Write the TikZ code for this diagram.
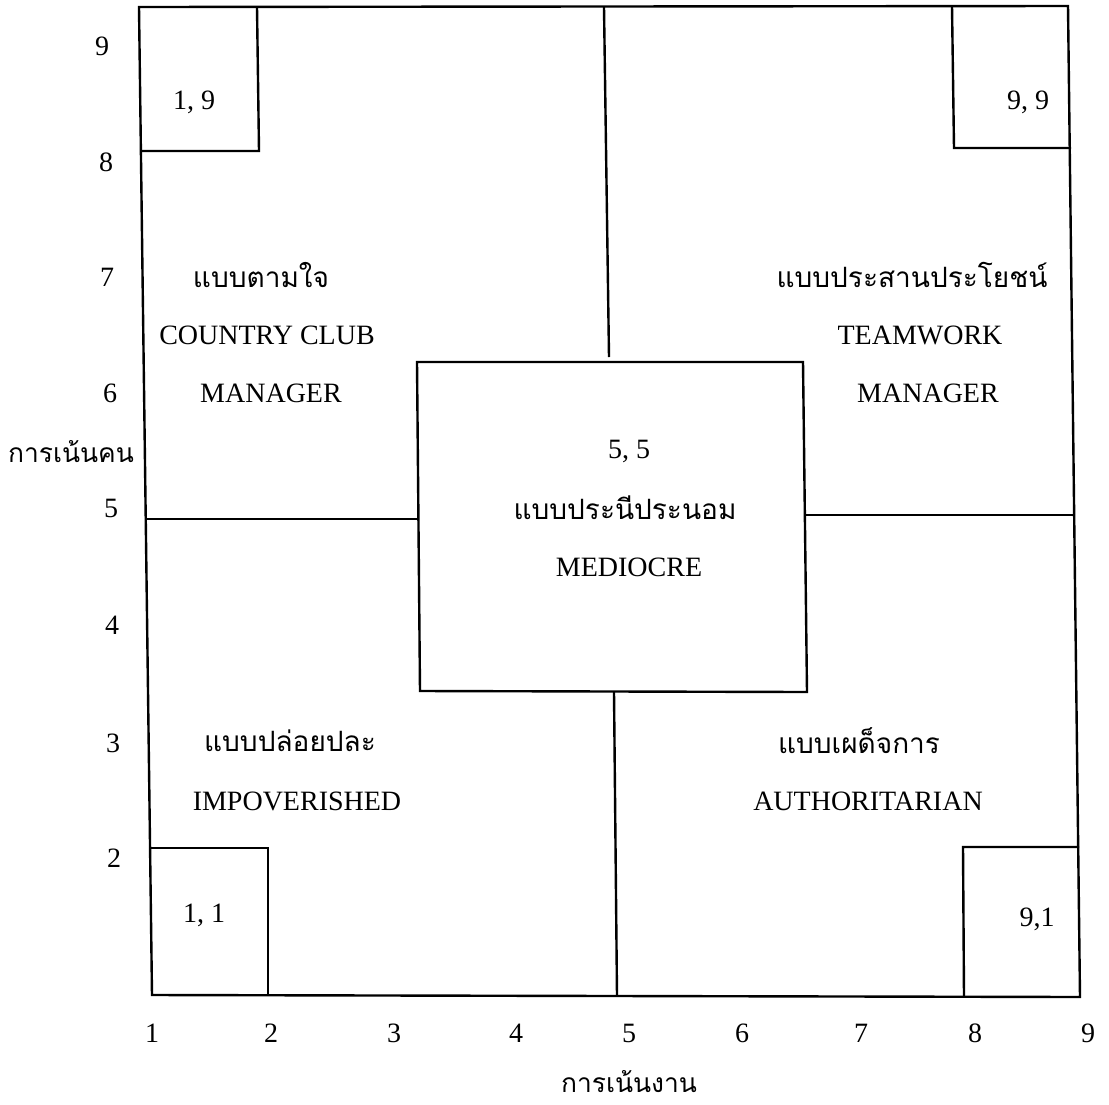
\documentclass[tikz,border=0pt]{standalone}
\usepackage{fontspec}
\setmainfont{Liberation Serif}
\newfontfamily\thaifont[Script=Thai]{Loma}
\begin{document}
\begin{tikzpicture}[x=0.5pt,y=-0.5pt,line width=1.2pt,line join=miter,
  lbl/.style={font=\fontsize{14}{16}\selectfont,inner sep=0pt},
  th/.style={font=\thaifont\fontsize{14}{16}\selectfont,inner sep=0pt},
  thax/.style={font=\thaifont\fontsize{13.2}{15}\selectfont,inner sep=0pt}]
\useasboundingbox (0,0) rectangle (1109,1104);
% outer frame corners
\coordinate (TL) at (139,7);
\coordinate (TR) at (1068,6);
\coordinate (BR) at (1080,997);
\coordinate (BL) at (152,995);
\draw (TL) -- (TR) -- (BR) -- (BL) -- cycle;
% centre box
\coordinate (cTL) at (417,362);
\coordinate (cTR) at (803,362);
\coordinate (cBR) at (807,692);
\coordinate (cBL) at (420,691);
\draw (cTL) -- (cTR) -- (cBR) -- (cBL) -- cycle;
% dividers
\coordinate (vT1) at (604,7);  \coordinate (vT2) at (609,357);
\coordinate (vB1) at (614,692); \coordinate (vB2) at (617,996);
\coordinate (hL1) at (146,519); \coordinate (hL2) at (418,519);
\coordinate (hR1) at (806,515); \coordinate (hR2) at (1075,515);
\draw (vT1) -- (vT2);
\draw (vB1) -- (vB2);
\draw (hL1) -- (hL2);
\draw (hR1) -- (hR2);
% corner boxes
\coordinate (a1) at (257,7); \coordinate (a2) at (259,151); \coordinate (a3) at (142,151);
\draw (a1) -- (a2) -- (a3);
\coordinate (b1) at (952,6); \coordinate (b2) at (954,148); \coordinate (b3) at (1071,148);
\draw (b1) -- (b2) -- (b3);
\coordinate (c1) at (151,848); \coordinate (c2) at (268,848); \coordinate (c3) at (268,995);
\draw (c1) -- (c2) -- (c3);
\coordinate (d1) at (1079,847); \coordinate (d2) at (963,847); \coordinate (d3) at (964,997);
\draw (d1) -- (d2) -- (d3);
% corner labels
\node[lbl] (k19) at (194,102) {1, 9};
\node[lbl] (k99) at (1028,102) {9, 9};
\node[lbl] (k11) at (204,915) {1, 1};
\node[lbl] (k91) at (1037,919) {9,1};
% quadrant texts
\node[th]  (q1a) at (261,275) {แบบตามใจ};
\node[lbl] (q1b) at (267,335) {COUNTRY CLUB};
\node[lbl] (q1c) at (271,393) {MANAGER};
\node[th]  (q2a) at (912,275) {แบบประสานประโยชน์};
\node[lbl] (q2b) at (920,335) {TEAMWORK};
\node[lbl] (q2c) at (928,393) {MANAGER};
\node[lbl] (m1) at (629,451) {5, 5};
\node[th]  (m2) at (625,508) {แบบประนีประนอม};
\node[lbl] (m3) at (629,567) {MEDIOCRE};
\node[th]  (q3a) at (290,741) {แบบปล่อยปละ};
\node[lbl] (q3b) at (297,801) {IMPOVERISHED};
\node[th]  (q4a) at (859,741) {แบบเผด็จการ};
\node[lbl] (q4b) at (868,801) {AUTHORITARIAN};
% y axis
\node[lbl] (y9) at (102,46) {9};
\node[lbl] (y8) at (106,162) {8};
\node[lbl] (y7) at (107,277) {7};
\node[lbl] (y6) at (110,393) {6};
\node[lbl] (y5) at (111,508) {5};
\node[lbl] (y4) at (112,625) {4};
\node[lbl] (y3) at (113,743) {3};
\node[lbl] (y2) at (114,858) {2};
\node[thax] (ytitle) at (71,452) {การเน้นคน};
% x axis
\node[lbl] (x1) at (152,1033) {1};
\node[lbl] (x2) at (271,1033) {2};
\node[lbl] (x3) at (394,1033) {3};
\node[lbl] (x4) at (516,1033) {4};
\node[lbl] (x5) at (629,1033) {5};
\node[lbl] (x6) at (742,1033) {6};
\node[lbl] (x7) at (861,1033) {7};
\node[lbl] (x8) at (975,1033) {8};
\node[lbl] (x9) at (1088,1033) {9};
\node[thax] (xtitle) at (629,1082) {การเน้นงาน};
\end{tikzpicture}
\end{document}
